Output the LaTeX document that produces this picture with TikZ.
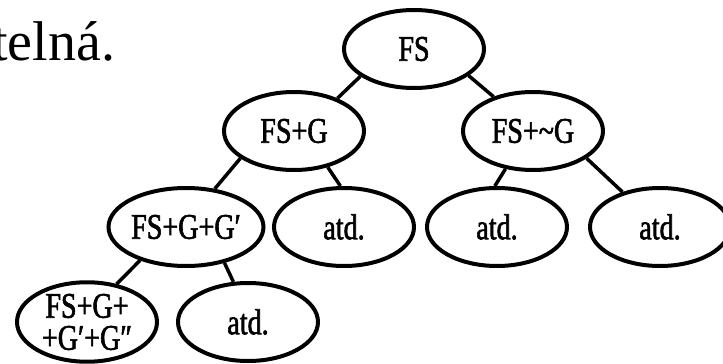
\documentclass[tikz,border=0pt]{standalone}
\usepackage{fontspec}
\setmainfont{Liberation Serif}
\newfontfamily\nodefont[FakeStretch=0.78,FakeBold=1.6]{Liberation Serif}
\usetikzlibrary{shapes.geometric}
\tikzset{
  bubble/.style={ellipse, draw=black, line width=4pt, inner sep=0pt,
    minimum width=140pt, minimum height=78pt, align=center,
    font=\nodefont\fontsize{36}{32}\selectfont},
  link/.style={draw=black, line width=3.5pt}
}
\begin{document}
\begin{tikzpicture}[x=1pt, y=-1pt]
\clip (0,0) rectangle (723,364);
\useasboundingbox (0,0) rectangle (723,364);
\node[anchor=base west, inner sep=0pt, font=\fontsize{56}{68}\selectfont] (title) at (-8,60) {telná.};
\node[bubble] (fs) at (414,49) {FS};
\node[bubble] (fsg) at (294,131) {FS+G};
\node[bubble] (fsng) at (533,131) {FS+{\char"007E}G};
\node[bubble] (fsgg) at (186,227) {FS+G+G′};
\node[bubble] (atda) at (344,227) {atd.};
\node[bubble] (atdb) at (497,227) {atd.};
\node[bubble] (atdc) at (660,227) {atd.};
\node[bubble] (fsggg) at (87,322) {FS+G+\\+G′+G″};
\node[bubble] (atdd) at (248,322) {atd.};
\draw[link] (fs.207) -- (fsg.37);
\draw[link] (fs.334) -- (fsng.139);
\draw[link] (fsg.207) -- (fsgg.53);
\draw[link] (fsg.313) -- (atda.95);
\draw[link] (fsng.234) -- (atdb.93);
\draw[link] (fsng.333) -- (atdc.137);
\draw[link] (fsgg.216) -- (fsggg.52);
\draw[link] (fsgg.317) -- (atdd.110);
\end{tikzpicture}
\end{document}
